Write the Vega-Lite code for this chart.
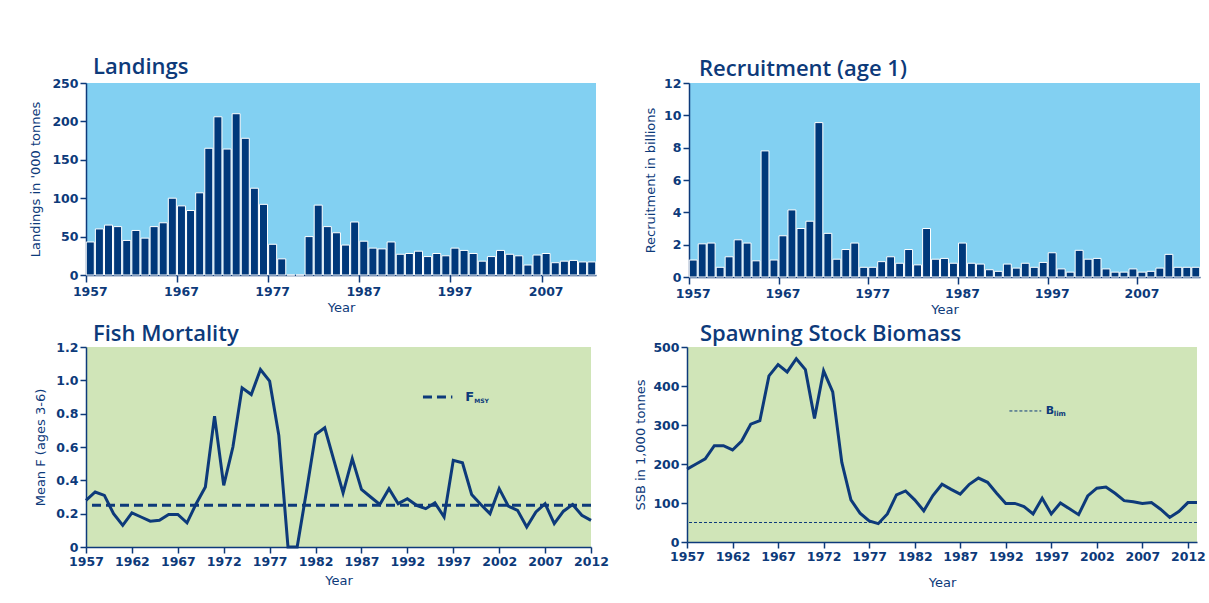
{
  "$schema": "https://vega.github.io/schema/vega-lite/v6.json",
  "background": "white",
  "padding": {"left": 29, "top": 56, "right": 0, "bottom": 0},
  "config": {
    "font": "DejaVu Sans",
    "view": {"stroke": null},
    "axis": {
      "domainColor": "#0d3a7a", "domainWidth": 1.5,
      "tickColor": "#0d3a7a", "tickSize": 6, "tickWidth": 1.5,
      "labelColor": "#0d3a7a", "labelFont": "DejaVu Sans", "labelFontWeight": "bold", "labelFontSize": 12.5,
      "titleColor": "#0d3a7a", "titleFont": "DejaVu Sans", "titleFontWeight": "normal", "titleFontSize": 13,
      "grid": false, "labelPadding": 2, "labelOverlap": false, "labelBound": false
    },
    "title": {"font": "Open Sans", "fontSize": 22, "fontWeight": 600, "color": "#0d3a7a", "anchor": "start", "frame": "group"},
    "concat": {"spacing": 0}
  },
  "datasets": {
    "landings": [
      {"year": 1957, "landings": 43}, {"year": 1958, "landings": 60}, {"year": 1959, "landings": 65}, {"year": 1960, "landings": 63},
      {"year": 1961, "landings": 45}, {"year": 1962, "landings": 58}, {"year": 1963, "landings": 48}, {"year": 1964, "landings": 63},
      {"year": 1965, "landings": 68}, {"year": 1966, "landings": 100}, {"year": 1967, "landings": 90}, {"year": 1968, "landings": 84},
      {"year": 1969, "landings": 107}, {"year": 1970, "landings": 165}, {"year": 1971, "landings": 206}, {"year": 1972, "landings": 164},
      {"year": 1973, "landings": 210}, {"year": 1974, "landings": 178}, {"year": 1975, "landings": 113}, {"year": 1976, "landings": 92},
      {"year": 1977, "landings": 40}, {"year": 1978, "landings": 21}, {"year": 1979, "landings": 0}, {"year": 1980, "landings": 0},
      {"year": 1981, "landings": 50}, {"year": 1982, "landings": 91}, {"year": 1983, "landings": 63}, {"year": 1984, "landings": 55},
      {"year": 1985, "landings": 39}, {"year": 1986, "landings": 69}, {"year": 1987, "landings": 44}, {"year": 1988, "landings": 35},
      {"year": 1989, "landings": 34}, {"year": 1990, "landings": 43}, {"year": 1991, "landings": 27}, {"year": 1992, "landings": 28},
      {"year": 1993, "landings": 31}, {"year": 1994, "landings": 24}, {"year": 1995, "landings": 28}, {"year": 1996, "landings": 25},
      {"year": 1997, "landings": 35}, {"year": 1998, "landings": 32}, {"year": 1999, "landings": 28}, {"year": 2000, "landings": 18},
      {"year": 2001, "landings": 24}, {"year": 2002, "landings": 32}, {"year": 2003, "landings": 27}, {"year": 2004, "landings": 25},
      {"year": 2005, "landings": 13}, {"year": 2006, "landings": 26}, {"year": 2007, "landings": 28}, {"year": 2008, "landings": 16},
      {"year": 2009, "landings": 18}, {"year": 2010, "landings": 19}, {"year": 2011, "landings": 17}, {"year": 2012, "landings": 17}
    ],
    "recruitment": [
      {"year": 1957, "recruits": 1.05}, {"year": 1958, "recruits": 2.05}, {"year": 1959, "recruits": 2.1}, {"year": 1960, "recruits": 0.6},
      {"year": 1961, "recruits": 1.25}, {"year": 1962, "recruits": 2.3}, {"year": 1963, "recruits": 2.1}, {"year": 1964, "recruits": 1.0},
      {"year": 1965, "recruits": 7.8}, {"year": 1966, "recruits": 1.05}, {"year": 1967, "recruits": 2.55}, {"year": 1968, "recruits": 4.15},
      {"year": 1969, "recruits": 3.0}, {"year": 1970, "recruits": 3.45}, {"year": 1971, "recruits": 9.55}, {"year": 1972, "recruits": 2.7},
      {"year": 1973, "recruits": 1.1}, {"year": 1974, "recruits": 1.7}, {"year": 1975, "recruits": 2.1}, {"year": 1976, "recruits": 0.6},
      {"year": 1977, "recruits": 0.6}, {"year": 1978, "recruits": 0.95}, {"year": 1979, "recruits": 1.25}, {"year": 1980, "recruits": 0.85},
      {"year": 1981, "recruits": 1.7}, {"year": 1982, "recruits": 0.75}, {"year": 1983, "recruits": 3.0}, {"year": 1984, "recruits": 1.1},
      {"year": 1985, "recruits": 1.15}, {"year": 1986, "recruits": 0.85}, {"year": 1987, "recruits": 2.1}, {"year": 1988, "recruits": 0.85},
      {"year": 1989, "recruits": 0.8}, {"year": 1990, "recruits": 0.45}, {"year": 1991, "recruits": 0.35}, {"year": 1992, "recruits": 0.8},
      {"year": 1993, "recruits": 0.55}, {"year": 1994, "recruits": 0.85}, {"year": 1995, "recruits": 0.6}, {"year": 1996, "recruits": 0.9},
      {"year": 1997, "recruits": 1.5}, {"year": 1998, "recruits": 0.5}, {"year": 1999, "recruits": 0.3}, {"year": 2000, "recruits": 1.65},
      {"year": 2001, "recruits": 1.1}, {"year": 2002, "recruits": 1.15}, {"year": 2003, "recruits": 0.5}, {"year": 2004, "recruits": 0.3},
      {"year": 2005, "recruits": 0.3}, {"year": 2006, "recruits": 0.5}, {"year": 2007, "recruits": 0.3}, {"year": 2008, "recruits": 0.35},
      {"year": 2009, "recruits": 0.55}, {"year": 2010, "recruits": 1.4}, {"year": 2011, "recruits": 0.6}, {"year": 2012, "recruits": 0.6},
      {"year": 2013, "recruits": 0.6}
    ],
    "mortality": [
      {"year": 1957, "F": 0.28}, {"year": 1958, "F": 0.33}, {"year": 1959, "F": 0.31}, {"year": 1960, "F": 0.2},
      {"year": 1961, "F": 0.13}, {"year": 1962, "F": 0.205}, {"year": 1963, "F": 0.18}, {"year": 1964, "F": 0.155},
      {"year": 1965, "F": 0.16}, {"year": 1966, "F": 0.195}, {"year": 1967, "F": 0.195}, {"year": 1968, "F": 0.145},
      {"year": 1969, "F": 0.26}, {"year": 1970, "F": 0.36}, {"year": 1971, "F": 0.785}, {"year": 1972, "F": 0.37},
      {"year": 1973, "F": 0.6}, {"year": 1974, "F": 0.955}, {"year": 1975, "F": 0.915}, {"year": 1976, "F": 1.065},
      {"year": 1977, "F": 0.995}, {"year": 1978, "F": 0.67}, {"year": 1979, "F": 0.0}, {"year": 1980, "F": 0.0},
      {"year": 1981, "F": 0.33}, {"year": 1982, "F": 0.675}, {"year": 1983, "F": 0.715}, {"year": 1984, "F": 0.52},
      {"year": 1985, "F": 0.325}, {"year": 1986, "F": 0.53}, {"year": 1987, "F": 0.345}, {"year": 1988, "F": 0.3},
      {"year": 1989, "F": 0.255}, {"year": 1990, "F": 0.35}, {"year": 1991, "F": 0.26}, {"year": 1992, "F": 0.29},
      {"year": 1993, "F": 0.25}, {"year": 1994, "F": 0.23}, {"year": 1995, "F": 0.265}, {"year": 1996, "F": 0.18},
      {"year": 1997, "F": 0.52}, {"year": 1998, "F": 0.505}, {"year": 1999, "F": 0.315}, {"year": 2000, "F": 0.255},
      {"year": 2001, "F": 0.2}, {"year": 2002, "F": 0.35}, {"year": 2003, "F": 0.245}, {"year": 2004, "F": 0.22},
      {"year": 2005, "F": 0.12}, {"year": 2006, "F": 0.21}, {"year": 2007, "F": 0.26}, {"year": 2008, "F": 0.14},
      {"year": 2009, "F": 0.215}, {"year": 2010, "F": 0.255}, {"year": 2011, "F": 0.19}, {"year": 2012, "F": 0.16}
    ],
    "ssb": [
      {"year": 1957, "SSB": 187}, {"year": 1958, "SSB": 200}, {"year": 1959, "SSB": 213}, {"year": 1960, "SSB": 247},
      {"year": 1961, "SSB": 247}, {"year": 1962, "SSB": 236}, {"year": 1963, "SSB": 259}, {"year": 1964, "SSB": 302},
      {"year": 1965, "SSB": 311}, {"year": 1966, "SSB": 426}, {"year": 1967, "SSB": 455}, {"year": 1968, "SSB": 436},
      {"year": 1969, "SSB": 470}, {"year": 1970, "SSB": 442}, {"year": 1971, "SSB": 317}, {"year": 1972, "SSB": 439},
      {"year": 1973, "SSB": 385}, {"year": 1974, "SSB": 204}, {"year": 1975, "SSB": 108}, {"year": 1976, "SSB": 74},
      {"year": 1977, "SSB": 54}, {"year": 1978, "SSB": 47}, {"year": 1979, "SSB": 72}, {"year": 1980, "SSB": 121},
      {"year": 1981, "SSB": 131}, {"year": 1982, "SSB": 108}, {"year": 1983, "SSB": 80}, {"year": 1984, "SSB": 119},
      {"year": 1985, "SSB": 148}, {"year": 1986, "SSB": 135}, {"year": 1987, "SSB": 123}, {"year": 1988, "SSB": 148},
      {"year": 1989, "SSB": 164}, {"year": 1990, "SSB": 153}, {"year": 1991, "SSB": 125}, {"year": 1992, "SSB": 99},
      {"year": 1993, "SSB": 99}, {"year": 1994, "SSB": 91}, {"year": 1995, "SSB": 72}, {"year": 1996, "SSB": 112},
      {"year": 1997, "SSB": 72}, {"year": 1998, "SSB": 100}, {"year": 1999, "SSB": 85}, {"year": 2000, "SSB": 70},
      {"year": 2001, "SSB": 118}, {"year": 2002, "SSB": 138}, {"year": 2003, "SSB": 141}, {"year": 2004, "SSB": 125},
      {"year": 2005, "SSB": 106}, {"year": 2006, "SSB": 103}, {"year": 2007, "SSB": 99}, {"year": 2008, "SSB": 101},
      {"year": 2009, "SSB": 84}, {"year": 2010, "SSB": 63}, {"year": 2011, "SSB": 78}, {"year": 2012, "SSB": 101},
      {"year": 2013, "SSB": 101}
    ],
    "refF": [{"ref": "FMSY", "F": 0.25}],
    "refB": [{"ref": "Blim", "SSB": 50}],
    "one": [{}]
  },
  "spacing": 6,
  "vconcat": [
    {
      "spacing": 47,
      "hconcat": [
        {
          "title": {"text": "Landings", "dx": 7, "offset": -2},
          "width": 510, "height": 192,
          "view": {"fill": "#82d0f2"},
          "data": {"name": "landings"},
          "mark": {"type": "bar", "fill": "#00387a", "stroke": "white", "strokeWidth": 1},
          "encoding": {
            "x": {"field": "year", "type": "ordinal",
              "scale": {"paddingInner": 0.12, "paddingOuter": 0.03},
              "axis": {"values": [1957, 1967, 1977, 1987, 1997, 2007], "bandPosition": 0, "labelAngle": 0, "tickSize": 7, "labelPadding": 3, "title": "Year", "titlePadding": 4}},
            "y": {"field": "landings", "type": "quantitative",
              "scale": {"domain": [0, 250], "nice": false},
              "axis": {"values": [0, 50, 100, 150, 200, 250], "title": "Landings in '000 tonnes", "titlePadding": 9}}
          }
        },
        {
          "title": {"text": "Recruitment (age 1)", "dx": 10, "offset": -4},
          "width": 511, "height": 194,
          "view": {"fill": "#82d0f2"},
          "data": {"name": "recruitment"},
          "mark": {"type": "bar", "fill": "#00387a", "stroke": "white", "strokeWidth": 1},
          "encoding": {
            "x": {"field": "year", "type": "ordinal",
              "scale": {"paddingInner": 0.12, "paddingOuter": 0.03},
              "axis": {"values": [1957, 1967, 1977, 1987, 1997, 2007], "bandPosition": 0, "labelAngle": 0, "tickSize": 7, "labelPadding": 3, "title": "Year", "titlePadding": 4}},
            "y": {"field": "recruits", "type": "quantitative",
              "scale": {"domain": [0, 12], "nice": false},
              "axis": {"values": [0, 2, 4, 6, 8, 10, 12], "title": "Recruitment in billions", "titlePadding": 6}}
          }
        }
      ]
    },
    {
      "spacing": 25,
      "hconcat": [
        {
          "title": {"text": "Fish Mortality", "dx": 7, "offset": -5},
          "width": 505, "height": 200,
          "view": {"fill": "#d0e5b8"},
          "layer": [
            {
              "data": {"name": "mortality"},
              "mark": {"type": "line", "color": "#0d3a7a", "strokeWidth": 3},
              "encoding": {
                "x": {"field": "year", "type": "quantitative",
                  "scale": {"domain": [1957, 2012], "nice": false, "zero": false},
                  "axis": {"values": [1957, 1962, 1967, 1972, 1977, 1982, 1987, 1992, 1997, 2002, 2007, 2012], "format": "d", "labelFlush": false, "title": "Year", "titlePadding": 7}},
                "y": {"field": "F", "type": "quantitative",
                  "scale": {"domain": [0, 1.2], "nice": false},
                  "axis": {"values": [0, 0.2, 0.4, 0.6, 0.8, 1.0, 1.2], "labelExpr": "datum.value == 0 ? '0' : format(datum.value, '.1f')", "title": "Mean F (ages 3-6)", "titlePadding": 8}}
              }
            },
            {
              "data": {"name": "refF"},
              "mark": {"type": "rule", "color": "#0d3a7a", "strokeWidth": 3, "strokeDash": [9, 5]},
              "encoding": {"y": {"field": "F", "type": "quantitative",
                  "axis": {"values": [0, 0.2, 0.4, 0.6, 0.8, 1.0, 1.2], "labelExpr": "datum.value == 0 ? '0' : format(datum.value, '.1f')", "title": "Mean F (ages 3-6)", "titlePadding": 8}}}
            },
            {
              "data": {"name": "one"},
              "mark": {"type": "rule", "color": "#0d3a7a", "strokeWidth": 3, "strokeDash": [9, 5]},
              "encoding": {
                "x": {"datum": 1993.7, "type": "quantitative", "axis": {"values": [1957, 1962, 1967, 1972, 1977, 1982, 1987, 1992, 1997, 2002, 2007, 2012], "format": "d", "labelFlush": false, "title": "Year", "titlePadding": 7}},
                "x2": {"datum": 1996.9},
                "y": {"datum": 0.9, "type": "quantitative", "axis": {"values": [0, 0.2, 0.4, 0.6, 0.8, 1.0, 1.2], "labelExpr": "datum.value == 0 ? '0' : format(datum.value, '.1f')", "title": "Mean F (ages 3-6)", "titlePadding": 8}}}
            },
            {
              "data": {"name": "one"},
              "mark": {"type": "text", "text": "F", "font": "DejaVu Sans", "fontWeight": "bold", "fontSize": 13, "color": "#0d3a7a", "align": "left", "baseline": "middle"},
              "encoding": {
                "x": {"datum": 1998.3, "type": "quantitative", "axis": {"values": [1957, 1962, 1967, 1972, 1977, 1982, 1987, 1992, 1997, 2002, 2007, 2012], "format": "d", "labelFlush": false, "title": "Year", "titlePadding": 7}},
                "y": {"datum": 0.9, "type": "quantitative", "axis": {"values": [0, 0.2, 0.4, 0.6, 0.8, 1.0, 1.2], "labelExpr": "datum.value == 0 ? '0' : format(datum.value, '.1f')", "title": "Mean F (ages 3-6)", "titlePadding": 8}}}
            },
            {
              "data": {"name": "one"},
              "mark": {"type": "text", "text": "MSY", "font": "DejaVu Sans", "fontWeight": "bold", "fontSize": 6, "color": "#0d3a7a", "align": "left", "baseline": "middle", "dx": 9, "dy": 4},
              "encoding": {
                "x": {"datum": 1998.3, "type": "quantitative", "axis": {"values": [1957, 1962, 1967, 1972, 1977, 1982, 1987, 1992, 1997, 2002, 2007, 2012], "format": "d", "labelFlush": false, "title": "Year", "titlePadding": 7}},
                "y": {"datum": 0.9, "type": "quantitative", "axis": {"values": [0, 0.2, 0.4, 0.6, 0.8, 1.0, 1.2], "labelExpr": "datum.value == 0 ? '0' : format(datum.value, '.1f')", "title": "Mean F (ages 3-6)", "titlePadding": 8}}}
            }
          ]
        },
        {
          "title": {"text": "Spawning Stock Biomass", "dx": 13, "offset": -5},
          "width": 510, "height": 195,
          "view": {"fill": "#d0e5b8"},
          "layer": [
            {
              "data": {"name": "ssb"},
              "mark": {"type": "line", "color": "#0d3a7a", "strokeWidth": 3},
              "encoding": {
                "x": {"field": "year", "type": "quantitative",
                  "scale": {"domain": [1957, 2013], "nice": false, "zero": false},
                  "axis": {"values": [1957, 1962, 1967, 1972, 1977, 1982, 1987, 1992, 1997, 2002, 2007, 2012], "format": "d", "labelFlush": false, "title": "Year", "titlePadding": 14}},
                "y": {"field": "SSB", "type": "quantitative",
                  "scale": {"domain": [0, 500], "nice": false},
                  "axis": {"values": [0, 100, 200, 300, 400, 500], "title": "SSB in 1,000 tonnes", "titlePadding": 5}}
              }
            },
            {
              "data": {"name": "refB"},
              "mark": {"type": "rule", "color": "#0d3a7a", "strokeWidth": 1, "strokeDash": [3, 2]},
              "encoding": {"y": {"field": "SSB", "type": "quantitative",
                  "axis": {"values": [0, 100, 200, 300, 400, 500], "title": "SSB in 1,000 tonnes", "titlePadding": 5}}}
            },
            {
              "data": {"name": "one"},
              "mark": {"type": "rule", "color": "#0d3a7a", "strokeWidth": 1, "strokeDash": [3, 2]},
              "encoding": {
                "x": {"datum": 1992.4, "type": "quantitative", "axis": {"values": [1957, 1962, 1967, 1972, 1977, 1982, 1987, 1992, 1997, 2002, 2007, 2012], "format": "d", "labelFlush": false, "title": "Year", "titlePadding": 14}},
                "x2": {"datum": 1995.9},
                "y": {"datum": 336, "type": "quantitative", "axis": {"values": [0, 100, 200, 300, 400, 500], "title": "SSB in 1,000 tonnes", "titlePadding": 5}}}
            },
            {
              "data": {"name": "one"},
              "mark": {"type": "text", "text": "B", "font": "DejaVu Sans", "fontWeight": "bold", "fontSize": 11, "color": "#0d3a7a", "align": "left", "baseline": "middle"},
              "encoding": {
                "x": {"datum": 1996.4, "type": "quantitative", "axis": {"values": [1957, 1962, 1967, 1972, 1977, 1982, 1987, 1992, 1997, 2002, 2007, 2012], "format": "d", "labelFlush": false, "title": "Year", "titlePadding": 14}},
                "y": {"datum": 336, "type": "quantitative", "axis": {"values": [0, 100, 200, 300, 400, 500], "title": "SSB in 1,000 tonnes", "titlePadding": 5}}}
            },
            {
              "data": {"name": "one"},
              "mark": {"type": "text", "text": "lim", "font": "DejaVu Sans", "fontWeight": "bold", "fontSize": 7, "color": "#0d3a7a", "align": "left", "baseline": "middle", "dx": 8, "dy": 3},
              "encoding": {
                "x": {"datum": 1996.4, "type": "quantitative", "axis": {"values": [1957, 1962, 1967, 1972, 1977, 1982, 1987, 1992, 1997, 2002, 2007, 2012], "format": "d", "labelFlush": false, "title": "Year", "titlePadding": 14}},
                "y": {"datum": 336, "type": "quantitative", "axis": {"values": [0, 100, 200, 300, 400, 500], "title": "SSB in 1,000 tonnes", "titlePadding": 5}}}
            }
          ]
        }
      ]
    }
  ]
}
